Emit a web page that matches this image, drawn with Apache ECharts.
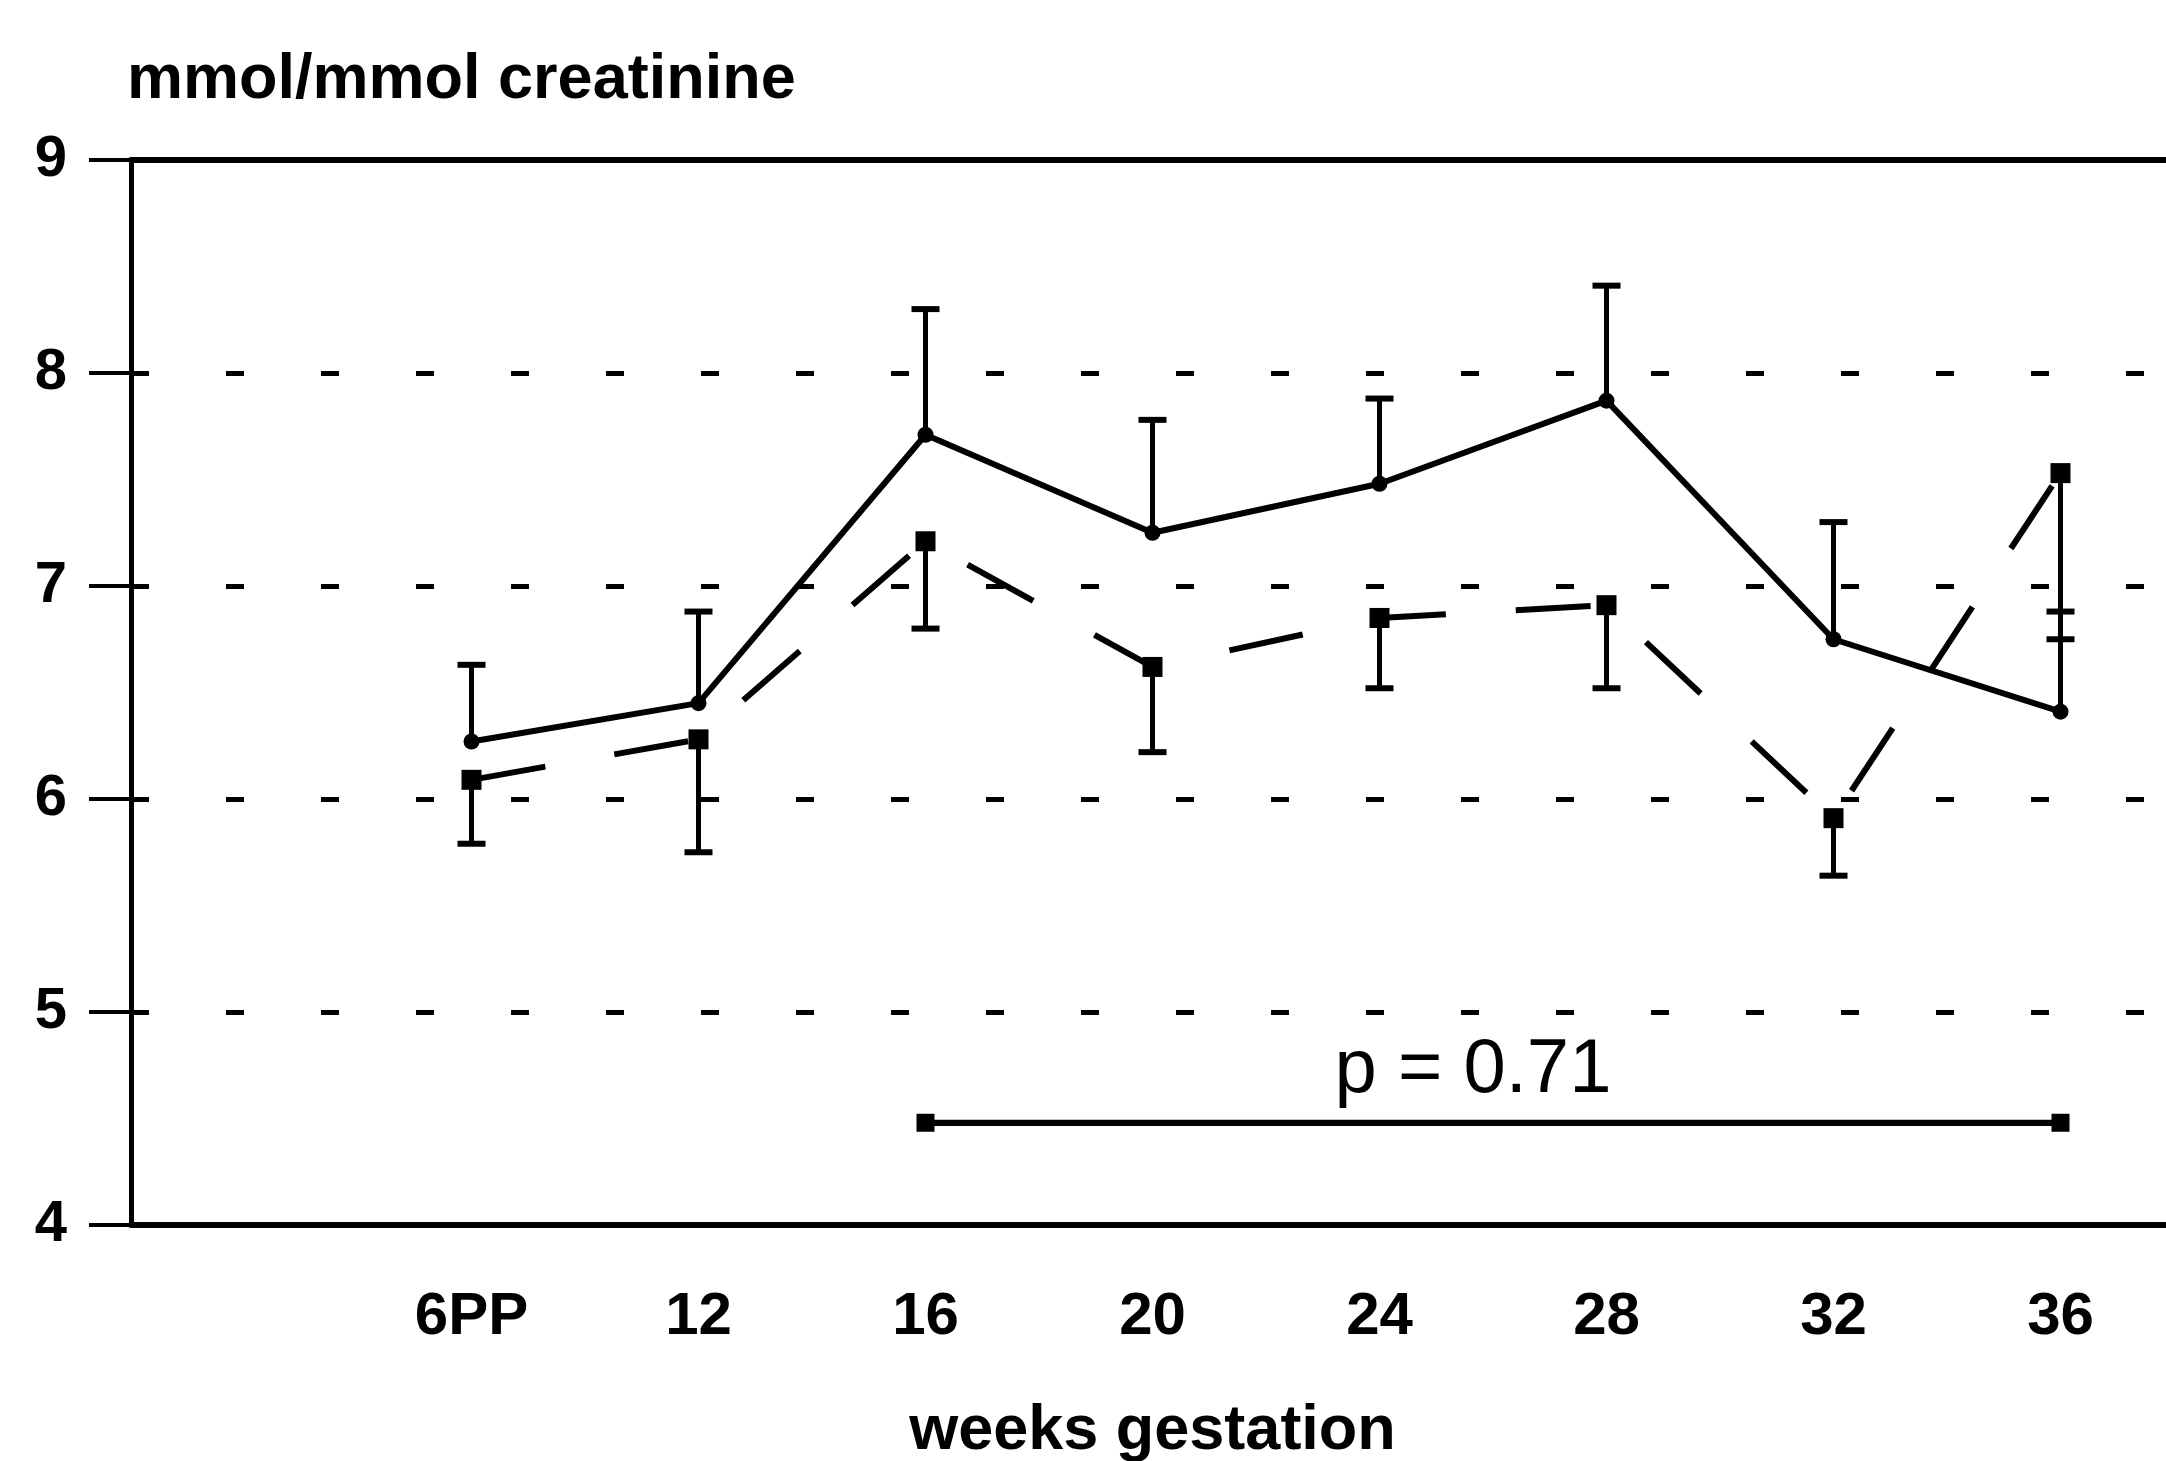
<!DOCTYPE html>
<html>
<head>
<meta charset="utf-8">
<script src="https://cdn.jsdelivr.net/npm/echarts@6/dist/echarts.min.js"></script>
<style>
  html, body { margin: 0; padding: 0; background: #fff; }
  #chart { width: 2166px; height: 1461px; }
</style>
</head>
<body>
<div id="chart"></div>
<script>
// first slot is an unlabelled tick before 6PP
const categories = ['', '6PP', '12', '16', '20', '24', '28', '32', '36']
const weeks = ['6PP', '12', '16', '20', '24', '28', '32', '36']

// solid line (circles) with upward error bars
const solidMean = [6.27, 6.45, 7.71, 7.25, 7.48, 7.87, 6.75, 6.41]
const solidUpper = [6.63, 6.88, 8.30, 7.78, 7.88, 8.41, 7.30, 6.88]

// dashed line (squares) with downward error bars
const dashedMean = [6.09, 6.28, 7.21, 6.62, 6.85, 6.91, 5.91, 7.53]
const dashedLower = [5.79, 5.75, 6.80, 6.22, 6.52, 6.52, 5.64, 6.75]

const yTicks = [4, 5, 6, 7, 8, 9]

// comparison bar 16 -> 36
const pFrom = '16'
const pTo = '36'
const pLevel = 4.48
const pText = 'p = 0.71'

const FONT = 'Liberation Sans'
const INK = '#000'

const chart = echarts.init(document.getElementById('chart'))

function errorBar(params, api) {
  const base = api.coord([api.value(0), api.value(1)])
  const end = api.coord([api.value(0), api.value(2)])
  const half = 14
  return {
    type: 'group',
    children: [
      {
        type: 'line',
        shape: { x1: base[0], y1: base[1], x2: end[0], y2: end[1] },
        style: { stroke: INK, lineWidth: 5 }
      },
      {
        type: 'line',
        shape: { x1: end[0] - half, y1: end[1], x2: end[0] + half, y2: end[1] },
        style: { stroke: INK, lineWidth: 6 }
      }
    ]
  }
}

const option = {
  animation: false,
  backgroundColor: '#fff',
  textStyle: { fontFamily: FONT, color: INK },
  grid: {
    left: 131, top: 160, width: 2043, height: 1065,
    containLabel: false, outerBoundsMode: 'none'
  },
  xAxis: [
    {
      type: 'category',
      data: categories,
      boundaryGap: true,
      name: 'weeks gestation',
      nameLocation: 'middle',
      nameGap: 175,
      nameTextStyle: { fontSize: 63, fontWeight: 'bold', color: INK, fontFamily: FONT },
      axisLine: { lineStyle: { color: INK, width: 6 } },
      axisTick: { alignWithLabel: true, length: 20, lineStyle: { color: INK, width: 4 } },
      axisLabel: { margin: 62, fontSize: 60, fontWeight: 'bold', color: INK, fontFamily: FONT },
      splitLine: { show: false }
    },
    {
      type: 'category',
      data: categories,
      position: 'top',
      boundaryGap: true,
      axisLine: { lineStyle: { color: INK, width: 6 } },
      axisTick: { show: false },
      axisLabel: { show: false },
      splitLine: { show: false }
    }
  ],
  yAxis: {
    type: 'value',
    min: yTicks[0],
    max: yTicks[yTicks.length - 1],
    interval: 1,
    name: 'mmol/mmol creatinine',
    nameLocation: 'end',
    nameGap: 48,
    nameTextStyle: {
      fontSize: 63, fontWeight: 'bold', color: INK, fontFamily: FONT,
      align: 'left', verticalAlign: 'bottom', padding: [0, 0, 0, -4]
    },
    axisLine: { show: true, lineStyle: { color: INK, width: 5 } },
    axisTick: { show: true, length: 42, lineStyle: { color: INK, width: 4 } },
    axisLabel: { margin: 64, fontSize: 58, fontWeight: 'bold', color: INK, fontFamily: FONT },
    splitLine: {
      show: true,
      lineStyle: { color: INK, width: 5, type: [18, 77] }
    }
  },
  series: [
    {
      name: 'solid',
      type: 'line',
      data: weeks.map((w, i) => [w, solidMean[i]]),
      symbol: 'circle',
      symbolSize: 16,
      itemStyle: { color: INK },
      lineStyle: { color: INK, width: 6 },
      z: 5
    },
    {
      name: 'dashed',
      type: 'line',
      data: weeks.map((w, i) => [w, dashedMean[i]]),
      symbol: 'rect',
      symbolSize: 20,
      itemStyle: { color: INK },
      lineStyle: { color: INK, width: 6, type: [75, 70] },
      z: 5
    },
    {
      name: 'solidErr',
      type: 'custom',
      renderItem: errorBar,
      data: weeks.map((w, i) => [w, solidMean[i], solidUpper[i]]),
      z: 4
    },
    {
      name: 'dashedErr',
      type: 'custom',
      renderItem: errorBar,
      data: weeks.map((w, i) => [w, dashedMean[i], dashedLower[i]]),
      z: 4
    },
    {
      name: 'pbar',
      type: 'line',
      data: [[pFrom, pLevel], [pTo, pLevel]],
      symbol: 'rect',
      symbolSize: 18,
      itemStyle: { color: INK },
      lineStyle: { color: INK, width: 6 },
      markLine: {
        silent: true,
        symbol: ['none', 'none'],
        lineStyle: { color: INK, width: 6, type: 'solid' },
        label: {
          show: true,
          position: 'middle',
          formatter: pText,
          distance: 14,
          fontSize: 76,
          fontFamily: FONT,
          color: INK,
          padding: [0, 40, 0, 0]
        },
        data: [[{ coord: [pFrom, pLevel] }, { coord: [pTo, pLevel] }]]
      },
      z: 5
    }
  ]
}

chart.setOption(option)
</script>
</body>
</html>
